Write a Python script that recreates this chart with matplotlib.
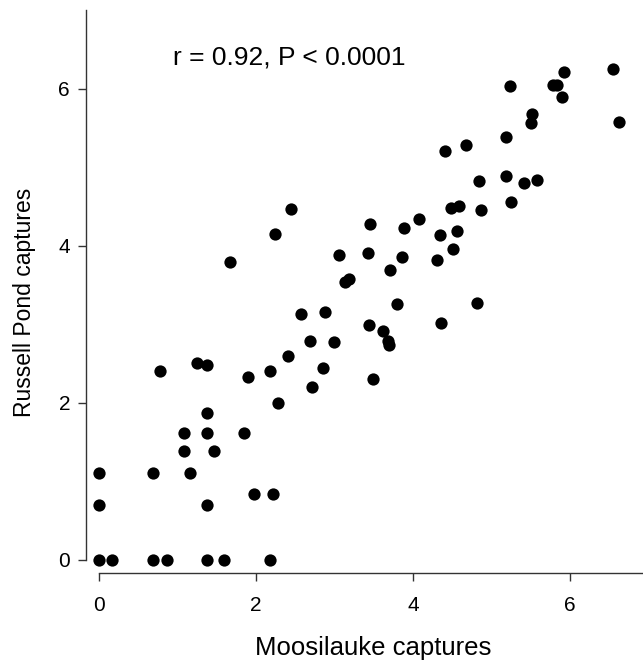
import matplotlib.pyplot as plt
import numpy as np

plt.rcParams['font.family'] = ['Liberation Sans', 'DejaVu Sans']

# Moosilauke vs Russell Pond captures
moosilauke = [0, 0.16, 0.68, 0.86, 1.37, 1.59, 2.17,
              0, 0, 0.68, 0.77, 1.24, 1.37, 1.37, 1.08, 1.37, 1.08, 1.46, 1.15, 1.37,
              1.97, 2.22, 1.84, 1.89, 2.18, 2.28, 2.41, 2.57, 2.88, 2.68, 2.99, 2.71, 2.85,
              1.66, 2.24, 2.44, 3.06, 3.13, 3.18,
              6.55, 6.62, 5.92, 5.78, 5.84, 5.90, 5.24, 5.51, 5.50, 5.19, 4.40, 4.67,
              5.18, 5.41, 5.58, 5.25, 4.84, 4.87, 4.48, 4.59, 4.07, 3.45, 3.88, 4.34, 4.56,
              3.43, 3.86, 3.70, 4.31, 4.51, 3.80, 4.82, 3.44, 3.61, 3.68, 3.69, 4.36, 3.49]
russell = [0, 0, 0, 0, 0, 0, 0,
           0.69, 1.10, 1.10, 2.40, 2.51, 2.48, 1.87, 1.61, 1.61, 1.38, 1.38, 1.10, 0.69,
           0.84, 0.84, 1.61, 2.33, 2.40, 1.99, 2.59, 3.13, 3.15, 2.79, 2.77, 2.20, 2.44,
           3.79, 4.15, 4.47, 3.88, 3.53, 3.57,
           6.25, 5.58, 6.21, 6.05, 6.05, 5.89, 6.03, 5.68, 5.56, 5.38, 5.21, 5.28,
           4.88, 4.80, 4.83, 4.56, 4.82, 4.45, 4.48, 4.50, 4.34, 4.27, 4.22, 4.13, 4.18,
           3.91, 3.86, 3.69, 3.81, 3.95, 3.25, 3.27, 2.99, 2.91, 2.79, 2.74, 3.02, 2.30]

ticks = [0, 2, 4, 6]
stat_text = "r = 0.92, P < 0.0001"

fig = plt.figure(figsize=(6.43, 6.68), dpi=100)
ax = fig.add_axes([86 / 643, (668 - 573) / 668, (643 - 86) / 643, (573 - 10) / 668])

ax.scatter(moosilauke, russell, s=78, c='black', linewidths=0, zorder=3)

ax.set_xlim(-0.17, 6.93)
ax.set_ylim(-0.17, 7.0)
ax.set_xticks(ticks)
ax.set_yticks(ticks)

for side in ['top', 'right']:
    ax.spines[side].set_visible(False)
ax.spines['left'].set_bounds(0, 7)
ax.spines['bottom'].set_bounds(0, 6.93)
for side in ['left', 'bottom']:
    ax.spines[side].set_color('#333333')
    ax.spines[side].set_linewidth(1.0)

ax.tick_params(axis='both', direction='out', length=5.5, width=1, color='#333333', labelsize=15)
ax.tick_params(axis='x', pad=11)
ax.tick_params(axis='y', pad=6)

ax.text(0.94, 6.30, stat_text, fontsize=19, va='baseline', ha='left')

fig.text(373 / 643, 13 / 668, "Moosilauke captures", fontsize=18.5, ha='center', va='baseline')
fig.text(24 / 643, 1 - 302 / 668, "Russell Pond captures", fontsize=16.5, ha='center', va='center',
         rotation=90)

fig.savefig("out.png", dpi=100)
